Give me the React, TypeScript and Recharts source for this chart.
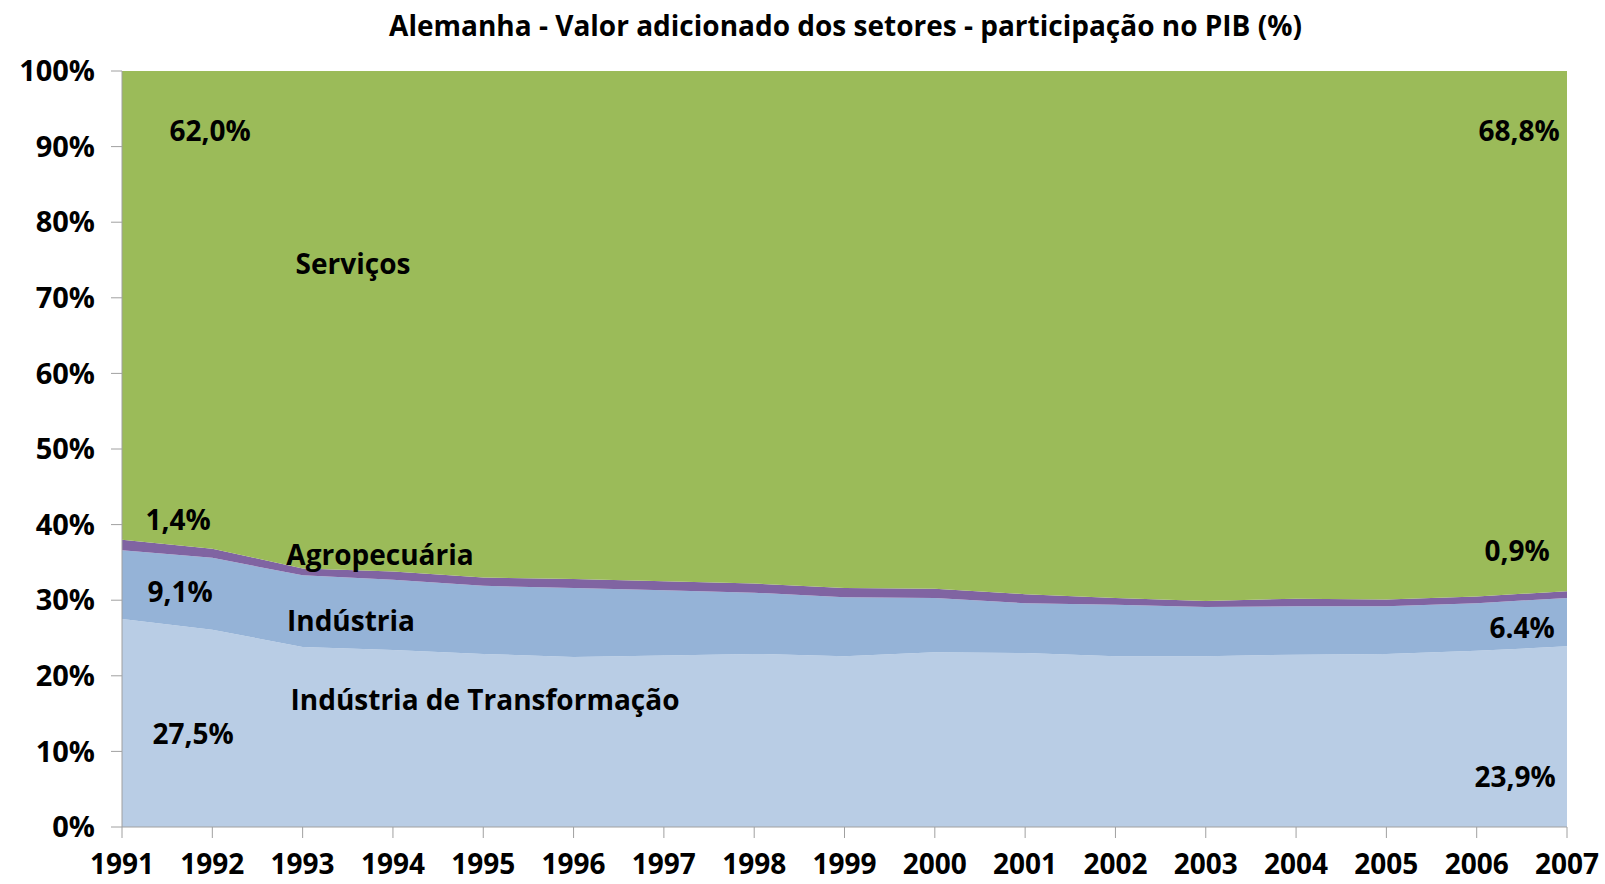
import React from "react";
import { AreaChart, Area, XAxis, YAxis } from "recharts";

const years = [1991, 1992, 1993, 1994, 1995, 1996, 1997, 1998, 1999, 2000, 2001, 2002, 2003, 2004, 2005, 2006, 2007];
const transformacao = [27.5, 26.1, 23.8, 23.4, 22.9, 22.5, 22.7, 22.9, 22.6, 23.1, 23.0, 22.6, 22.6, 22.8, 22.9, 23.3, 23.9];
const industria = [9.1, 9.5, 9.5, 9.3, 9.0, 9.1, 8.6, 8.1, 7.8, 7.2, 6.6, 6.8, 6.5, 6.4, 6.3, 6.3, 6.4];
const agropecuaria = [1.4, 1.2, 0.9, 1.1, 1.1, 1.2, 1.2, 1.2, 1.2, 1.2, 1.2, 0.9, 0.8, 1.0, 0.9, 0.9, 0.9];
const servicos = [62.0, 63.2, 65.8, 66.2, 67.0, 67.2, 67.5, 67.8, 68.4, 68.5, 69.2, 69.7, 70.1, 69.8, 69.9, 69.5, 68.8];
const yTicks = [0, 10, 20, 30, 40, 50, 60, 70, 80, 90, 100];

const data = years.map((y, i) => ({
  year: y,
  transf: transformacao[i],
  ind: industria[i],
  agro: agropecuaria[i],
  serv: servicos[i],
}));

const FONT = "'Open Sans', 'DejaVu Sans', sans-serif";
const AXIS = "#a0a0a0";

// annotation texts placed over the plot (center x, center y)
const notes: { text: string; x: number; y: number }[] = [
  { text: "62,0%", x: 210, y: 130 },
  { text: "68,8%", x: 1519, y: 130 },
  { text: "Serviços", x: 353, y: 263 },
  { text: "1,4%", x: 178, y: 519 },
  { text: "Agropecuária", x: 380, y: 554 },
  { text: "9,1%", x: 180, y: 591 },
  { text: "Indústria", x: 351, y: 620 },
  { text: "Indústria de Transformação", x: 485, y: 699 },
  { text: "27,5%", x: 193, y: 733 },
  { text: "0,9%", x: 1517, y: 550 },
  { text: "6.4%", x: 1522, y: 627 },
  { text: "23,9%", x: 1515, y: 776 },
];

export default function App() {
  return (
    <div style={{ position: "absolute", left: 0, top: 0, width: 1605, height: 884, background: "#fff", fontFamily: FONT }}>
      <div style={{ position: "absolute", left: 0, width: 1605, top: 6, textAlign: "center", paddingLeft: 86, boxSizing: "border-box", fontSize: 28, fontWeight: 700, color: "#000" }}>
        Alemanha - Valor adicionado dos setores - participação no PIB (%)
      </div>
      <AreaChart width={1605} height={884} data={data} stackOffset="none" margin={{ top: 71, right: 38, bottom: 0, left: 0 }}>
        <XAxis
          dataKey="year"
          height={57}
          tickLine={{ stroke: AXIS }}
          tickSize={11}
          tickMargin={16}
          axisLine={{ stroke: AXIS }}
          interval={0}
          padding={{ left: 0, right: 0 }}
          tick={{ fill: "#000", fontSize: 28, fontWeight: 700, fontFamily: FONT }}
        />
        <YAxis
          width={122}
          domain={[0, 100]}
          ticks={yTicks}
          tickFormatter={(v: number) => `${v}%`}
          tickLine={{ stroke: AXIS }}
          tickSize={11}
          tickMargin={16}
          axisLine={{ stroke: AXIS }}
          tick={{ fill: "#000", fontSize: 29, fontWeight: 700, fontFamily: FONT }}
        />
        <Area type="linear" dataKey="transf" stackId="1" stroke="none" fill="#b9cde5" fillOpacity={1} isAnimationActive={false} />
        <Area type="linear" dataKey="ind" stackId="1" stroke="none" fill="#95b3d7" fillOpacity={1} isAnimationActive={false} />
        <Area type="linear" dataKey="agro" stackId="1" stroke="none" fill="#8064a2" fillOpacity={1} isAnimationActive={false} />
        <Area type="linear" dataKey="serv" stackId="1" stroke="none" fill="#9bbb59" fillOpacity={1} isAnimationActive={false} />
      </AreaChart>
      {notes.map((n) => (
        <div
          key={n.text}
          style={{
            position: "absolute",
            left: n.x,
            top: n.y,
            transform: "translate(-50%, -50%)",
            whiteSpace: "nowrap",
            fontSize: 28,
            fontWeight: 700,
            color: "#000",
            lineHeight: 1,
          }}
        >
          {n.text}
        </div>
      ))}
    </div>
  );
}
